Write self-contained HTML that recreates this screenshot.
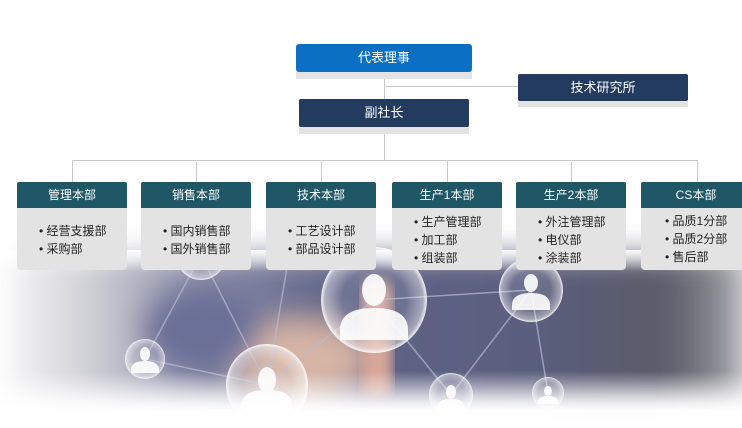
<!DOCTYPE html>
<html><head><meta charset="utf-8"><style>
*{margin:0;padding:0;box-sizing:border-box}
body{width:742px;height:428px;background:#fff;position:relative;overflow:hidden;font-family:"Liberation Sans","Noto Sans CJK SC",sans-serif}
.bg{position:absolute;left:0;top:0}
.b{position:absolute;color:#fff;font-size:13px;text-align:center;line-height:27px}
.sh{position:absolute;background:#e3e3e3}
.ln{position:absolute;background:#c9c9c9}
.dh{position:absolute;top:182px;height:26px;background:#1f5767;color:#fff;font-size:12px;text-align:center;line-height:26px;border-radius:2px 2px 0 0}
.db{position:absolute;top:208px;height:62px;background:#e3e3e3;font-size:12px;color:#222;border-radius:0 0 4px 4px}
.db div{position:absolute;left:0;right:0;text-align:left;padding-left:22px;line-height:18px}
</style></head><body>
<svg class="bg" width="742" height="428">
<defs>
<filter id="bl" x="-50%" y="-50%" width="200%" height="200%"><feGaussianBlur stdDeviation="14"/></filter>
<filter id="bl2"><feGaussianBlur stdDeviation="6"/></filter>
<linearGradient id="hg" x1="0" x2="1" y1="0" y2="0">
<stop offset="0" stop-color="#f4f4f6"/><stop offset="0.1" stop-color="#d2d2d8"/><stop offset="0.25" stop-color="#8d90a8"/><stop offset="0.45" stop-color="#5f6487"/><stop offset="0.7" stop-color="#5a5e7e"/><stop offset="0.88" stop-color="#5a5a68"/><stop offset="0.96" stop-color="#8a8a92"/><stop offset="1" stop-color="#d0d0d4"/>
</linearGradient>
<linearGradient id="vg" gradientUnits="userSpaceOnUse" x1="0" x2="0" y1="250" y2="428">
<stop offset="0" stop-color="#fff" stop-opacity="0.9"/><stop offset="0.12" stop-color="#fff" stop-opacity="0"/><stop offset="0.68" stop-color="#fff" stop-opacity="0"/><stop offset="0.9" stop-color="#fff" stop-opacity="0.95"/><stop offset="1" stop-color="#fff" stop-opacity="1"/>
</linearGradient>
<radialGradient id="bub" cx="50%" cy="50%" r="50%"><stop offset="0.6" stop-color="#fff" stop-opacity="0.1"/><stop offset="0.92" stop-color="#fff" stop-opacity="0.45"/><stop offset="1" stop-color="#fff" stop-opacity="0.9"/></radialGradient>
</defs>
<g filter="url(#bl)">
<rect x="10" y="255" width="742" height="150" fill="url(#hg)"/>
<ellipse cx="300" cy="360" rx="70" ry="40" fill="#d5b4a6"/>
<ellipse cx="200" cy="330" rx="60" ry="45" fill="#6a7098"/>
</g>
<rect x="362" y="280" width="30" height="120" rx="14" fill="#d8a79a" filter="url(#bl2)"/>
<g stroke="#b8bbd0" stroke-width="1.5" opacity="0.7">
<line x1="201" y1="255" x2="145" y2="359"/><line x1="201" y1="255" x2="267" y2="385"/>
<line x1="374" y1="300" x2="267" y2="385"/><line x1="374" y1="300" x2="531" y2="290"/>
<line x1="374" y1="300" x2="451" y2="395"/><line x1="531" y1="290" x2="451" y2="395"/>
<line x1="531" y1="290" x2="548" y2="393"/><line x1="145" y1="359" x2="267" y2="385"/>
<line x1="290" y1="250" x2="267" y2="385"/>
</g>
<g>
<circle cx="201" cy="255" r="25" fill="url(#bub)"/>
<circle cx="374" cy="300" r="53" fill="url(#bub)"/>
<circle cx="531" cy="290" r="32" fill="url(#bub)"/>
<circle cx="145" cy="359" r="20" fill="url(#bub)"/>
<circle cx="267" cy="385" r="41" fill="url(#bub)"/>
<circle cx="451" cy="395" r="22" fill="url(#bub)"/>
<circle cx="548" cy="393" r="16" fill="url(#bub)"/>
</g>
<g fill="#fff" opacity="0.9">
<ellipse cx="374" cy="290" rx="12" ry="16"/><path d="M340 330 q0-22 34-22 q34 0 34 22 v10 h-68z"/>
<ellipse cx="531" cy="283" rx="7" ry="9"/><path d="M512 305 q0-12 19-12 q19 0 19 12 v5 h-38z"/>
<ellipse cx="145" cy="354" rx="5" ry="7"/><path d="M131 370 q0-9 14-9 q14 0 14 9 v3 h-28z"/>
<ellipse cx="267" cy="380" rx="9" ry="13"/><path d="M242 405 q0-15 25-15 q25 0 25 15 v6 h-50z"/>
<ellipse cx="451" cy="392" rx="5" ry="7"/><path d="M437 408 q0-9 14-9 q14 0 14 9 v3 h-28z"/>
<ellipse cx="548" cy="391" rx="4" ry="5"/><path d="M538 402 q0-6 10-6 q10 0 10 6 v2 h-20z"/>
</g>
<rect x="0" y="250" width="742" height="178" fill="url(#vg)"/>
</svg>
<div class="ln" style="left:384px;top:79px;width:1px;height:81px"></div>
<div class="ln" style="left:384px;top:86px;width:134px;height:1px"></div>
<div class="ln" style="left:72px;top:160px;width:626px;height:1px"></div>
<div class="ln" style="left:72px;top:160px;width:1px;height:22px"></div>
<div class="ln" style="left:196px;top:160px;width:1px;height:22px"></div>
<div class="ln" style="left:321px;top:160px;width:1px;height:22px"></div>
<div class="ln" style="left:447px;top:160px;width:1px;height:22px"></div>
<div class="ln" style="left:571px;top:160px;width:1px;height:22px"></div>
<div class="ln" style="left:697px;top:160px;width:1px;height:22px"></div>
<div class="sh" style="left:296px;top:70px;width:176px;height:9px"></div>
<div class="b" style="left:296px;top:44px;width:176px;height:28px;background:#0b70c3;border-radius:3px">代表理事</div>
<div class="sh" style="left:518px;top:99px;width:170px;height:8px"></div>
<div class="b" style="left:518px;top:74px;width:170px;height:27px;background:#233b5f;border-radius:2px">技术研究所</div>
<div class="sh" style="left:299px;top:125px;width:170px;height:9px"></div>
<div class="b" style="left:299px;top:99px;width:170px;height:28px;background:#233b5f;border-radius:2px">副社长</div>

<div class="dh" style="left:17px;width:110px">管理本部</div>
<div class="db" style="left:17px;width:110px"><div style="top:14px">• 经营支援部</div><div style="top:32px">• 采购部</div></div>
<div class="dh" style="left:141px;width:110px">销售本部</div>
<div class="db" style="left:141px;width:110px"><div style="top:14px">• 国内销售部</div><div style="top:32px">• 国外销售部</div></div>
<div class="dh" style="left:266px;width:110px">技术本部</div>
<div class="db" style="left:266px;width:110px"><div style="top:14px">• 工艺设计部</div><div style="top:32px">• 部品设计部</div></div>
<div class="dh" style="left:392px;width:110px">生产1本部</div>
<div class="db" style="left:392px;width:110px"><div style="top:5px">• 生产管理部</div><div style="top:23px">• 加工部</div><div style="top:41px">• 组装部</div></div>
<div class="dh" style="left:516px;width:110px">生产2本部</div>
<div class="db" style="left:516px;width:110px"><div style="top:5px">• 外注管理部</div><div style="top:23px">• 电仪部</div><div style="top:41px">• 涂装部</div></div>
<div class="dh" style="left:641px;width:110px">CS本部</div>
<div class="db" style="left:641px;width:110px"><div style="top:4px;padding-left:24px">• 品质1分部</div><div style="top:22px;padding-left:24px">• 品质2分部</div><div style="top:40px;padding-left:24px">• 售后部</div></div>
</body></html>
